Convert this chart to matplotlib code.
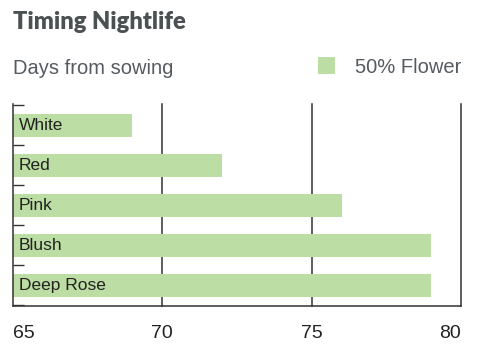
import matplotlib.pyplot as plt

# data
varieties = ["White", "Red", "Pink", "Blush", "Deep Rose"]
days_to_flower = [69, 72, 76, 79, 79]
x_ticks = [65, 70, 75, 80]

bar_color = "#bcdda3"
ink = "#333333"

fig = plt.figure(figsize=(4.82, 3.53), dpi=100)
ax = fig.add_axes([13 / 482, 1 - 306 / 353, (461 - 13) / 482, (306 - 104) / 353])

ypos = list(range(len(varieties)))
# bars start at the left axis edge (65)
bars = ax.barh(ypos, [d - x_ticks[0] for d in days_to_flower], left=x_ticks[0],
               height=0.57, color=bar_color, zorder=2, label="50% Flower")

for x in x_ticks[1:]:
    ax.axvline(x, color=ink, lw=1.1, zorder=1, clip_on=False)

for y, name in zip(ypos, varieties):
    ax.annotate(name, (x_ticks[0], y), xytext=(4, 0), textcoords="offset points",
                va="center", ha="left", fontsize=12.5, color="#222222",
                family="Liberation Sans", zorder=3)

ax.set_xlim(x_ticks[0], x_ticks[-1])
ax.set_ylim(4.52, -0.53)

ax.set_yticks([y - 0.5 for y in ypos] + [len(ypos) - 0.5])
ax.set_yticklabels([])
ax.tick_params(axis="y", direction="in", length=8, width=1.0, color=ink)

ax.set_xticks(x_ticks)
ax.set_xticklabels([str(t) for t in x_ticks], fontsize=14, color="#222222",
                   family="Liberation Sans")
ax.tick_params(axis="x", length=0, pad=14)
labels = ax.get_xticklabels()
labels[0].set_horizontalalignment("left")
labels[-1].set_horizontalalignment("right")

for side in ["top", "right"]:
    ax.spines[side].set_visible(False)
for side in ["left", "bottom"]:
    ax.spines[side].set_color(ink)
    ax.spines[side].set_linewidth(1.1)

fig.text(13 / 482, 1 - 29 / 353, "Timing Nightlife", fontsize=17, fontweight="heavy",
         color="#4b5052", family="Lato", va="baseline")
fig.text(13 / 482, 1 - 74 / 353, "Days from sowing", fontsize=14.5, color="#555b60",
         family="Liberation Sans", va="baseline")

fig.legend(handles=[bars], loc="center right", bbox_to_anchor=(461 / 482, 1 - 67 / 353),
           frameon=False, handlelength=0.85, handleheight=0.85,
           handletextpad=0.95, borderpad=0, borderaxespad=0,
           prop={"family": "Liberation Sans", "size": 14.5}, labelcolor="#555b60")

fig.savefig("out.png", dpi=100)
